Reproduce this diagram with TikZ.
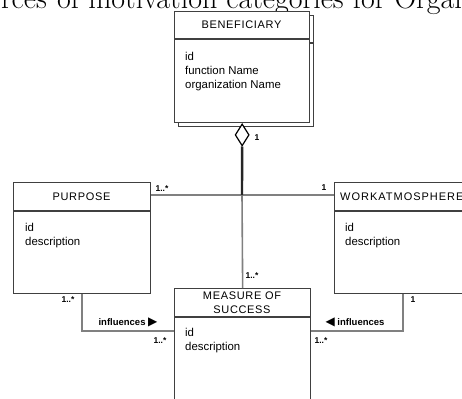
\documentclass[tikz,border=0pt]{standalone}
\usepackage{fontspec}
\newfontfamily\umlfont{Liberation Sans}
\newfontfamily\umltitle[LetterSpace=6]{Liberation Sans}
\newfontfamily\umltitlewide[LetterSpace=9]{Liberation Sans}
\newfontfamily\symfont{DejaVu Sans}
\usetikzlibrary{shapes.geometric}
\definecolor{boxgray}{gray}{0.25}
\definecolor{linegray}{gray}{0.5}
\begin{document}
\begin{tikzpicture}[x=1pt,y=-1pt,
  classbox/.style={draw=boxgray, line width=1.3pt, fill=white, inner sep=0pt, anchor=north west},
  sepline/.style={draw=boxgray, line width=1.3pt},
  title/.style={font=\umltitle\fontsize{11}{14}\selectfont, inner sep=0pt, align=center},
  attrs/.style={font=\umlfont\fontsize{11.4}{14}\selectfont, inner sep=0pt, align=left, anchor=north west},
  assoc/.style={draw=linegray, line width=1.6pt},
  aggline/.style={draw=black!85, line width=2.4pt},
  mult/.style={font=\umlfont\bfseries\fontsize{8.5}{10}\selectfont, inner sep=0pt},
  rel/.style={font=\umlfont\bfseries\fontsize{9.5}{11}\selectfont, inner sep=0pt},
  heading/.style={font=\fontsize{30}{36}\selectfont, inner sep=0pt}
]
\useasboundingbox (0,0) rectangle (462,398);
\clip (0,0) rectangle (462,398);

% heading of the surrounding page
\node[heading, anchor=base east] (headA) at (47,8.5) {Sources};
\node[heading, anchor=base west] (headB) at (57,8.5) {of motivation categories for Organizational};

% BENEFICIARY (multi-object box with shadow copy)
\node[classbox, minimum width=135pt, minimum height=111pt] (benefshadow) at (178,15) {};
\draw[sepline] (178,43) -- (313,43);
\node[classbox, minimum width=135pt, minimum height=111pt] (benef) at (174,11) {};
\draw[sepline] (174,39) -- (309,39);
\node[title] (benefT) at (241.5,25) {BENEFICIARY};
\node[attrs] (benefA) at (185,52) {id\\function Name\\organization Name};

% PURPOSE
\node[classbox, minimum width=137pt, minimum height=111pt] (purpose) at (13,182) {};
\draw[sepline] (13,211) -- (150,211);
\node[title] (purposeT) at (81.5,197) {PURPOSE};
\node[attrs] (purposeA) at (25,223) {id\\description};

% WORK ATMOSPHERE
\node[classbox, minimum width=137pt, minimum height=111pt] (wa) at (334,182) {};
\draw[sepline] (334,211) -- (471,211);
\node[title, font=\umltitlewide\fontsize{11}{14}\selectfont, anchor=west] (waT) at (340,197) {WORKATMOSPHERE};
\node[attrs] (waA) at (345,223) {id\\description};

% MEASURE OF SUCCESS
\node[classbox, minimum width=136pt, minimum height=130pt] (mos) at (174,288) {};
\draw[sepline] (174,317) -- (310,317);
\node[title] (mosT) at (242,303) {MEASURE OF\\SUCCESS};
\node[attrs] (mosA) at (185,328) {id\\description};

% junctions
\coordinate (j) at (242,195);
\coordinate (k) at (242,331);

% aggregation from BENEFICIARY
\draw[assoc] (purpose.east |- j) -- (wa.west |- j);
\draw[assoc] (j) -- (mos.north);
\node[draw=black, fill=white, line width=1.2pt, diamond, inner sep=0pt, minimum width=14pt, minimum height=22pt, anchor=north] (aggd) at (benef.south) {};
\draw[aggline] (aggd.south) -- (j);

% influences connectors
\draw[assoc] (purpose.south) |- (mos.west |- k);
\draw[assoc] (wa.south) |- (mos.east |- k);

% multiplicities
\node[mult] (m1) at (257,138) {1};
\node[mult] (m2) at (162,189) {1..*};
\node[mult] (m3) at (324,188) {1};
\node[mult] (m4) at (252,276) {1..*};
\node[mult] (m5) at (68,300) {1..*};
\node[mult] (m6) at (160,341) {1..*};
\node[mult] (m7) at (413,300) {1};
\node[mult] (m8) at (321,341) {1..*};

% relationship names
\node[rel] (r1) at (128,322) {influences {\symfont\fontsize{12}{12}\selectfont ▶}};
\node[rel] (r2) at (355,322) {{\symfont\fontsize{12}{12}\selectfont ◀} influences};
\end{tikzpicture}
\end{document}
